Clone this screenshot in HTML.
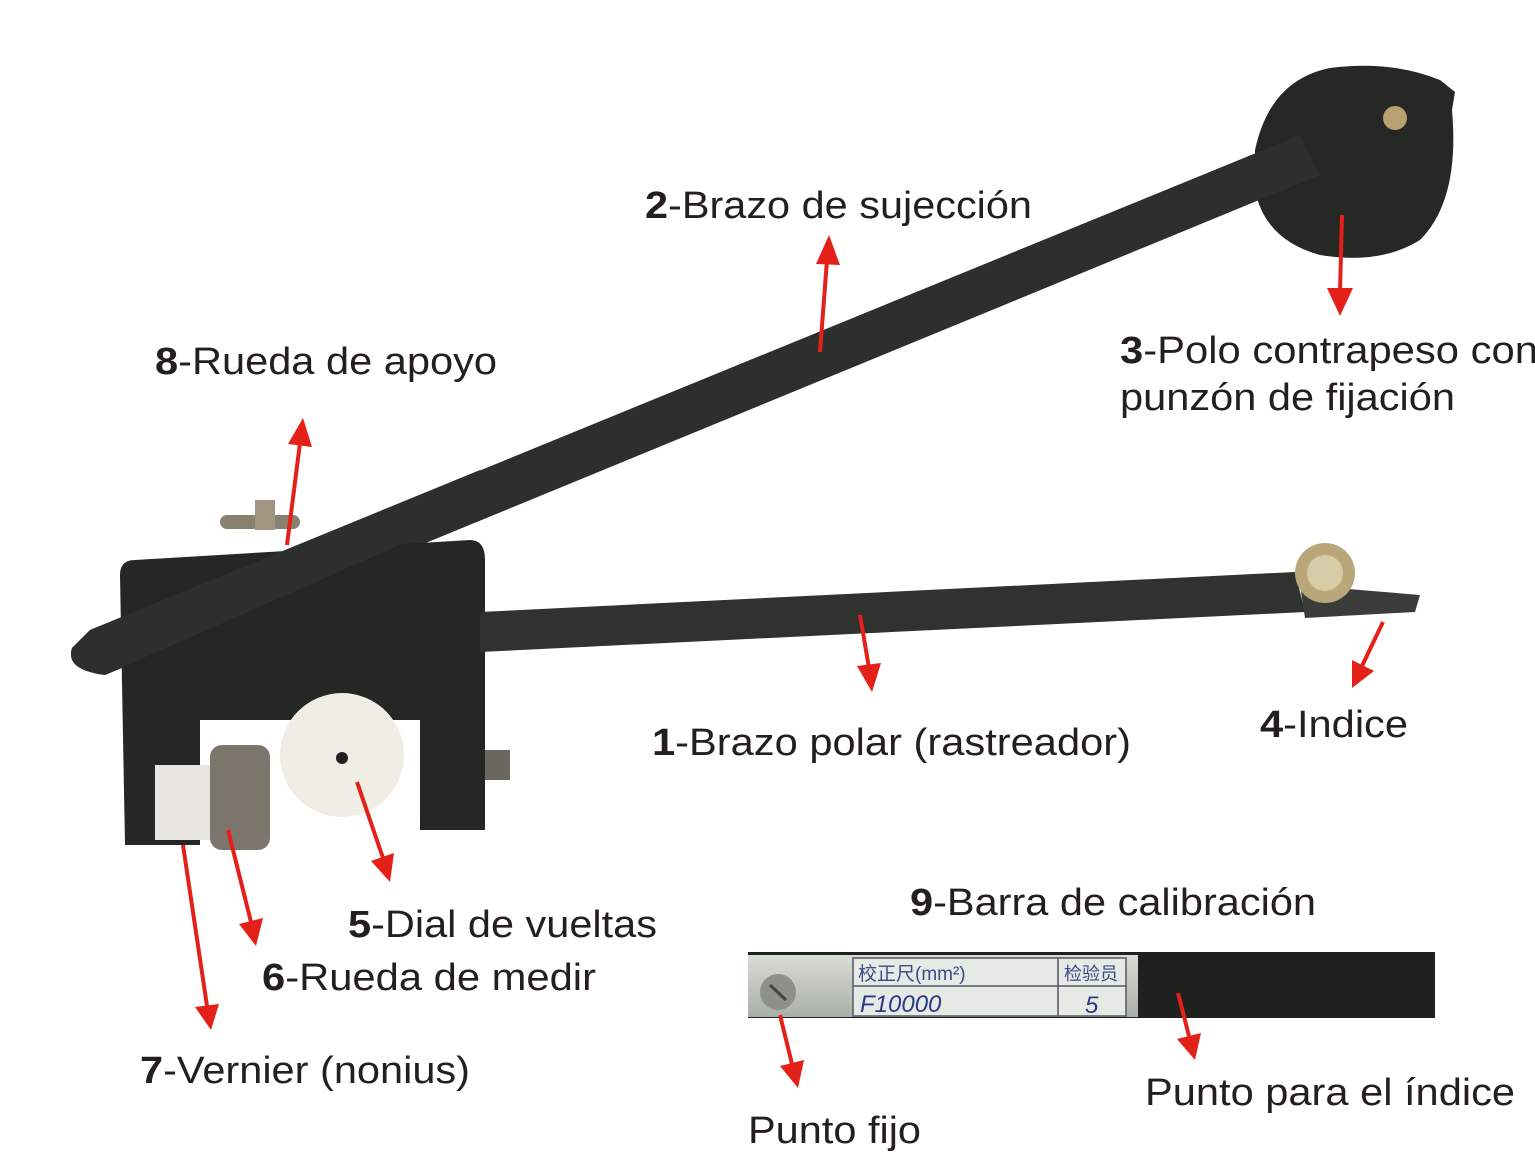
<!DOCTYPE html>
<html><head><meta charset="utf-8"><style>
html,body{margin:0;padding:0;background:#fff;}
svg{display:block}
text{font-family:"Liberation Sans","Noto Sans CJK SC",sans-serif;fill:#231f20;}
</style></head><body>
<svg width="1535" height="1154" viewBox="0 0 1535 1154" xmlns="http://www.w3.org/2000/svg">
<defs>
<linearGradient id="mt" x1="0" y1="0" x2="0" y2="1"><stop offset="0" stop-color="#d8ddd6"/><stop offset="1" stop-color="#a9b0a8"/></linearGradient>
</defs>
<!-- counterweight disk -->
<path d="M1255,150 Q1270,80 1330,68 Q1390,60 1440,80 L1455,92 L1452,110 Q1460,200 1420,240 Q1380,265 1320,255 Q1265,240 1255,190 Z" fill="#262826"/>
<circle cx="1395" cy="118" r="12" fill="#b8a070"/>
<!-- arm 2 -->
<path d="M90,630 L1300,135 L1320,175 L105,675 Q65,670 72,648 Z" fill="#2c2f2c"/>
<!-- support wheel -->
<rect x="220" y="515" width="80" height="14" rx="7" fill="#8a8070"/>
<rect x="255" y="500" width="20" height="30" fill="#a09580"/>
<!-- block -->
<path d="M135,560 L470,540 Q485,540 485,560 L485,830 L420,830 L420,720 L200,720 L200,845 L125,845 L120,575 Q120,560 135,560 Z" fill="#252725"/>
<path d="M90,630 L480,470 L490,505 L105,675 Q65,670 72,648 Z" fill="#2c2f2c"/>
<!-- arm 1 -->
<path d="M480,612 L1295,572 L1305,612 L480,652 Z" fill="#2f322f"/>
<path d="M1300,585 L1420,595 L1415,612 L1305,618 Z" fill="#3a3c3a"/>
<circle cx="1325" cy="573" r="30" fill="#b9a77a"/>
<circle cx="1325" cy="573" r="18" fill="#d6cca8"/>
<!-- wheels and dial -->
<rect x="155" y="765" width="80" height="75" fill="#e8e6e0"/>
<rect x="210" y="745" width="60" height="105" rx="12" fill="#7c766c"/>
<circle cx="342" cy="755" r="62" fill="#f0ede4"/>
<circle cx="342" cy="758" r="6" fill="#222"/>
<rect x="485" y="750" width="25" height="30" fill="#6b665e"/>
<!-- calibration bar -->
<rect x="748" y="952" width="687" height="66" fill="#1f211f"/>
<rect x="748" y="955" width="390" height="62" fill="url(#mt)"/>
<circle cx="778" cy="992" r="18" fill="#8c918a"/>
<line x1="770" y1="985" x2="786" y2="1000" stroke="#444" stroke-width="3"/>
<rect x="853" y="958" width="273" height="58" fill="#e6eae4" stroke="#556" stroke-width="1.5"/>
<line x1="853" y1="986" x2="1126" y2="986" stroke="#556" stroke-width="1.5"/>
<line x1="1058" y1="958" x2="1058" y2="1016" stroke="#556" stroke-width="1.5"/>
<text x="858" y="980" font-size="19" style="fill:#3a4a8a">校正尺(mm²)</text>
<text x="1064" y="980" font-size="18" style="fill:#3a4a8a">检验员</text>
<text x="860" y="1012" font-size="24" font-style="italic" style="fill:#2a3a8a">F10000</text>
<text x="1085" y="1013" font-size="24" font-style="italic" style="fill:#2a3a8a">5</text>
<!-- arrows -->
<g stroke="#e32119" stroke-width="4" fill="#e32119">
<line x1="820" y1="352" x2="827" y2="260"/><polygon points="829,235 816,264 840,265" stroke="none"/>
<line x1="1342" y1="215" x2="1340" y2="292"/><polygon points="1340,316 1327,288 1353,288" stroke="none"/>
<line x1="287" y1="545" x2="300" y2="443"/><polygon points="303,418 288,444 312,447" stroke="none"/>
<line x1="860" y1="615" x2="869" y2="668"/><polygon points="872,692 857,666 881,663" stroke="none"/>
<line x1="1383" y1="622" x2="1362" y2="666"/><polygon points="1352,688 1352,660 1374,671" stroke="none"/>
<line x1="357" y1="782" x2="383" y2="858"/><polygon points="390,882 371,861 394,853" stroke="none"/>
<line x1="228" y1="830" x2="251" y2="922"/><polygon points="256,946 239,924 263,918" stroke="none"/>
<line x1="183" y1="845" x2="207" y2="1006"/><polygon points="211,1030 195,1007 219,1004" stroke="none"/>
<line x1="780" y1="1015" x2="792" y2="1064"/><polygon points="798,1088 780,1066 804,1060" stroke="none"/>
<line x1="1178" y1="993" x2="1189" y2="1036"/><polygon points="1195,1060 1177,1039 1201,1033" stroke="none"/>
</g>
<!-- labels -->
<g font-size="38">
<text x="645" y="218" textLength="387" lengthAdjust="spacingAndGlyphs"><tspan font-weight="bold">2</tspan>-Brazo de sujección</text>
<text x="1120" y="363" textLength="418" lengthAdjust="spacingAndGlyphs"><tspan font-weight="bold">3</tspan>-Polo contrapeso con</text>
<text x="1120" y="410" textLength="335" lengthAdjust="spacingAndGlyphs">punzón de fijación</text>
<text x="155" y="374" textLength="342" lengthAdjust="spacingAndGlyphs"><tspan font-weight="bold">8</tspan>-Rueda de apoyo</text>
<text x="652" y="755" textLength="479" lengthAdjust="spacingAndGlyphs"><tspan font-weight="bold">1</tspan>-Brazo polar (rastreador)</text>
<text x="1260" y="737" textLength="148" lengthAdjust="spacingAndGlyphs"><tspan font-weight="bold">4</tspan>-Indice</text>
<text x="348" y="937" textLength="309" lengthAdjust="spacingAndGlyphs"><tspan font-weight="bold">5</tspan>-Dial de vueltas</text>
<text x="262" y="990" textLength="334" lengthAdjust="spacingAndGlyphs"><tspan font-weight="bold">6</tspan>-Rueda de medir</text>
<text x="140" y="1083" textLength="330" lengthAdjust="spacingAndGlyphs"><tspan font-weight="bold">7</tspan>-Vernier (nonius)</text>
<text x="910" y="915" textLength="406" lengthAdjust="spacingAndGlyphs"><tspan font-weight="bold">9</tspan>-Barra de calibración</text>
<text x="1145" y="1105" textLength="370" lengthAdjust="spacingAndGlyphs">Punto para el índice</text>
<text x="748" y="1143" textLength="173" lengthAdjust="spacingAndGlyphs">Punto fijo</text>
</g>
</svg>
</body></html>
